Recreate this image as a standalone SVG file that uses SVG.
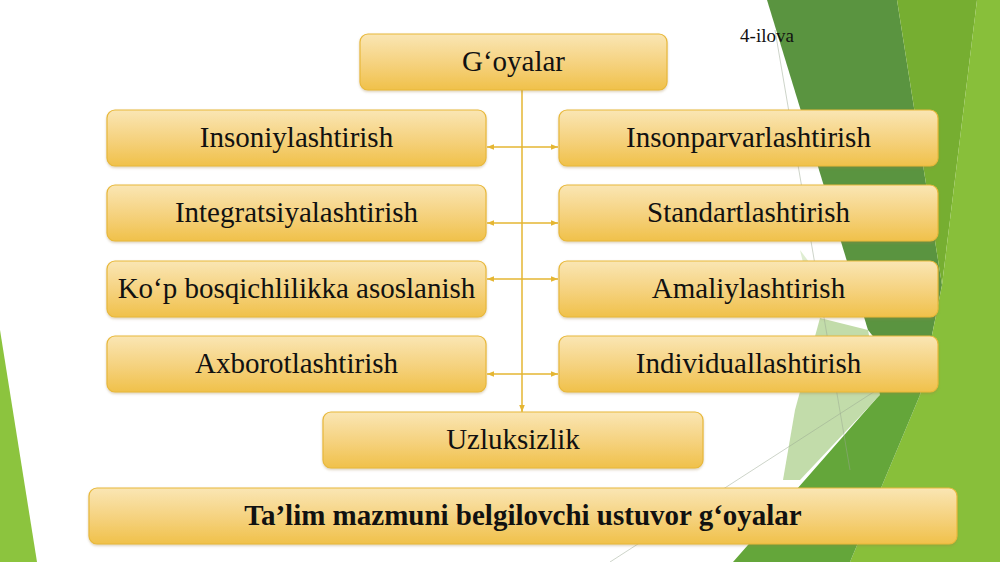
<svg xmlns="http://www.w3.org/2000/svg" width="1000" height="562" viewBox="0 0 1000 562">
<defs>
<linearGradient id="gold" x1="0" y1="0" x2="0" y2="1">
<stop offset="0" stop-color="#fae6b4"/>
<stop offset="0.55" stop-color="#f5d17c"/>
<stop offset="1" stop-color="#f0c14a"/>
</linearGradient>
<marker id="ah" viewBox="0 0 10 10" refX="10" refY="5" markerWidth="7" markerHeight="7" orient="auto-start-reverse" markerUnits="userSpaceOnUse">
<path d="M0,1 L10,5 L0,9 Z" fill="#e5b632"/>
</marker>
<filter id="sh" x="-5%" y="-10%" width="110%" height="130%">
<feDropShadow dx="0" dy="1.5" stdDeviation="1.2" flood-color="#a08040" flood-opacity="0.35"/>
</filter>
</defs>
<style>
.box{fill:url(#gold);stroke:#e8b83a;stroke-width:1.2;filter:url(#sh)}
.t{font-family:"Liberation Serif","Times New Roman",serif;font-size:29px;fill:#111;text-anchor:middle}
.b{font-weight:bold}
.con{stroke:#e5b632;stroke-width:1.5;fill:none}
.deco{stroke:#9aa890;stroke-width:0.7;fill:none;opacity:0.7}
</style>
<rect width="1000" height="562" fill="#ffffff"/>
<g id="background">
<polygon points="0,330 37,562 0,562" fill="#8cc43e"/>
<polygon points="767,0 897,0 942,285 920,395 868,330" fill="#5a9440"/>
<polygon points="897,0 977,0 942,285" fill="#76ae31"/>
<polygon points="977,0 1000,0 1000,562 850,562 920,395 942,285" fill="#88bf3a"/>
<polygon points="733,562 875,400 905,345 920,395 850,562" fill="#64a63a"/>
<polygon points="820,318 868,330 880,395 800,480 783,480 795,410" fill="#c2dcaa"/>
<polygon points="800,250 830,290 820,318 812,300" fill="#d6e8c6" opacity="0.8"/>
<line class="deco" x1="775" y1="30" x2="850" y2="470"/>
<line class="deco" x1="610" y1="562" x2="900" y2="375"/>
</g>
<text x="767" y="42" style="font-family:'Liberation Serif',serif;font-size:19px;fill:#111;text-anchor:middle">4-ilova</text>
<g id="connectors">
<line class="con" x1="522" y1="90" x2="522" y2="412" marker-end="url(#ah)"/>
<line class="con" x1="487" y1="147" x2="558" y2="147" marker-start="url(#ah)" marker-end="url(#ah)"/>
<line class="con" x1="487" y1="223" x2="558" y2="223" marker-start="url(#ah)" marker-end="url(#ah)"/>
<line class="con" x1="487" y1="279" x2="558" y2="279" marker-start="url(#ah)" marker-end="url(#ah)"/>
<line class="con" x1="487" y1="374" x2="558" y2="374" marker-start="url(#ah)" marker-end="url(#ah)"/>
</g>
<g id="goyalar"><rect class="box" x="360" y="34" width="307" height="56" rx="8"/><text class="t" x="513.5" y="71">G‘oyalar</text></g>
<g id="insoniylashtirish"><rect class="box" x="107" y="110" width="379" height="56" rx="8"/><text class="t" x="296.5" y="147">Insoniylashtirish</text></g>
<g id="integratsiyalashtirish"><rect class="box" x="107" y="185" width="379" height="56" rx="8"/><text class="t" x="296.5" y="222">Integratsiyalashtirish</text></g>
<g id="kop-bosqichlilikka"><rect class="box" x="107" y="261" width="379" height="56" rx="8"/><text class="t" x="296.5" y="298">Ko‘p bosqichlilikka asoslanish</text></g>
<g id="axborotlashtirish"><rect class="box" x="107" y="336" width="379" height="56" rx="8"/><text class="t" x="296.5" y="373">Axborotlashtirish</text></g>
<g id="insonparvarlashtirish"><rect class="box" x="559" y="110" width="379" height="56" rx="8"/><text class="t" x="748.5" y="147">Insonparvarlashtirish</text></g>
<g id="standartlashtirish"><rect class="box" x="559" y="185" width="379" height="56" rx="8"/><text class="t" x="748.5" y="222">Standartlashtirish</text></g>
<g id="amaliylashtirish"><rect class="box" x="559" y="261" width="379" height="56" rx="8"/><text class="t" x="748.5" y="298">Amaliylashtirish</text></g>
<g id="individuallashtirish"><rect class="box" x="559" y="336" width="379" height="56" rx="8"/><text class="t" x="748.5" y="373">Individuallashtirish</text></g>
<g id="uzluksizlik"><rect class="box" x="323" y="412" width="380" height="56" rx="8"/><text class="t" x="513" y="449">Uzluksizlik</text></g>
<g id="title"><rect class="box" x="89" y="488" width="868" height="56" rx="8"/><text class="t b" x="523" y="525">Ta’lim mazmuni belgilovchi ustuvor g‘oyalar</text></g>
</svg>
